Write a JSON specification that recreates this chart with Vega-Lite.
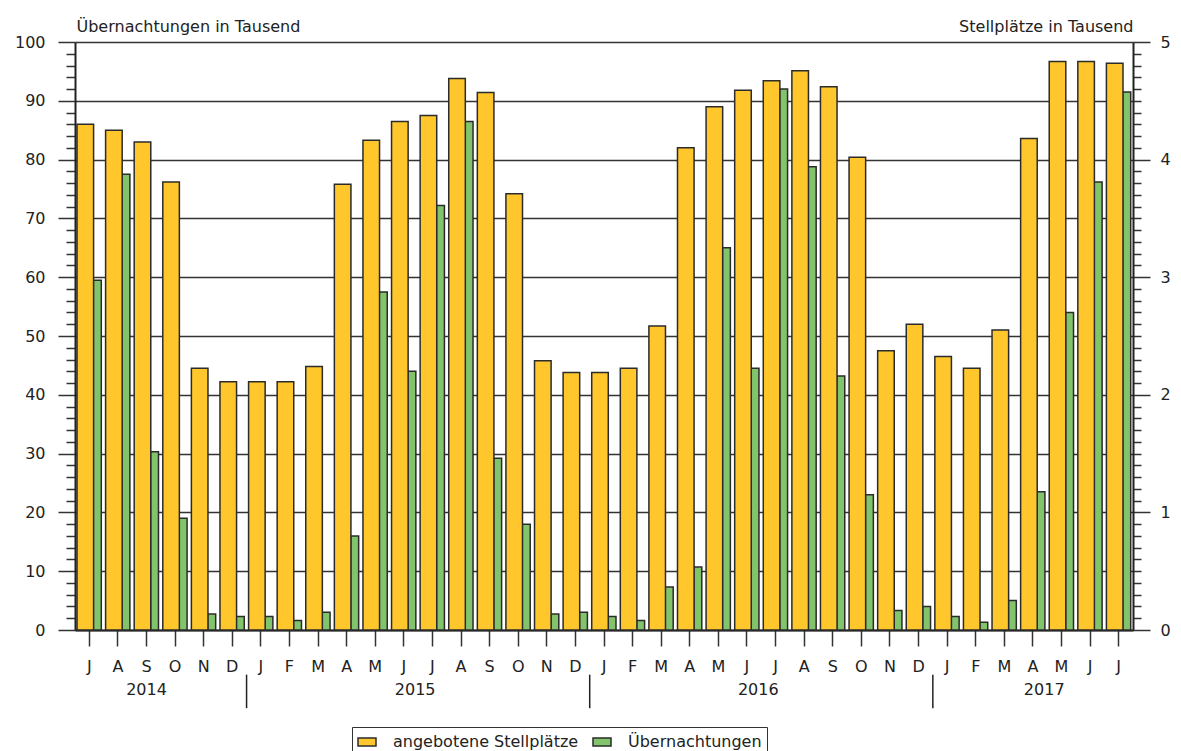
{
  "$schema": "https://vega.github.io/schema/vega-lite/v6.json",
  "width": 1058,
  "height": 588,
  "autosize": {"type": "none"},
  "padding": {"left": 75, "top": 42, "right": 48, "bottom": 121},
  "background": "white",
  "config": {
    "font": "DejaVu Sans",
    "view": {"stroke": null},
    "axisX": {
      "title": null,
      "labelAngle": 0,
      "labelFontSize": 16,
      "labelColor": "#222",
      "labelPadding": 12,
      "tickSize": 16,
      "tickColor": "#333",
      "tickWidth": 1.5,
      "domainColor": "#222",
      "domainWidth": 2,
      "grid": false
    }
  },
  "datasets": {
    "months": [
      {"m": "2014-07", "stell": 4.30, "uebern": 59.5},
      {"m": "2014-08", "stell": 4.25, "uebern": 77.5},
      {"m": "2014-09", "stell": 4.15, "uebern": 30.3},
      {"m": "2014-10", "stell": 3.81, "uebern": 19.0},
      {"m": "2014-11", "stell": 2.225, "uebern": 2.7},
      {"m": "2014-12", "stell": 2.11, "uebern": 2.3},
      {"m": "2015-01", "stell": 2.11, "uebern": 2.3},
      {"m": "2015-02", "stell": 2.11, "uebern": 1.6},
      {"m": "2015-03", "stell": 2.24, "uebern": 3.0},
      {"m": "2015-04", "stell": 3.79, "uebern": 16.0},
      {"m": "2015-05", "stell": 4.165, "uebern": 57.5},
      {"m": "2015-06", "stell": 4.325, "uebern": 44.0},
      {"m": "2015-07", "stell": 4.375, "uebern": 72.2},
      {"m": "2015-08", "stell": 4.69, "uebern": 86.5},
      {"m": "2015-09", "stell": 4.57, "uebern": 29.2},
      {"m": "2015-10", "stell": 3.71, "uebern": 18.0},
      {"m": "2015-11", "stell": 2.29, "uebern": 2.7},
      {"m": "2015-12", "stell": 2.19, "uebern": 3.0},
      {"m": "2016-01", "stell": 2.19, "uebern": 2.3},
      {"m": "2016-02", "stell": 2.225, "uebern": 1.6},
      {"m": "2016-03", "stell": 2.585, "uebern": 7.3},
      {"m": "2016-04", "stell": 4.10, "uebern": 10.7},
      {"m": "2016-05", "stell": 4.45, "uebern": 65.0},
      {"m": "2016-06", "stell": 4.59, "uebern": 44.5},
      {"m": "2016-07", "stell": 4.67, "uebern": 92.0},
      {"m": "2016-08", "stell": 4.755, "uebern": 78.8},
      {"m": "2016-09", "stell": 4.62, "uebern": 43.2},
      {"m": "2016-10", "stell": 4.02, "uebern": 23.0},
      {"m": "2016-11", "stell": 2.375, "uebern": 3.3},
      {"m": "2016-12", "stell": 2.60, "uebern": 4.0},
      {"m": "2017-01", "stell": 2.325, "uebern": 2.3},
      {"m": "2017-02", "stell": 2.225, "uebern": 1.3},
      {"m": "2017-03", "stell": 2.55, "uebern": 5.0},
      {"m": "2017-04", "stell": 4.18, "uebern": 23.5},
      {"m": "2017-05", "stell": 4.835, "uebern": 54.0},
      {"m": "2017-06", "stell": 4.835, "uebern": 76.2},
      {"m": "2017-07", "stell": 4.82, "uebern": 91.5}
    ],
    "yearsCenter": [{"year": "2014", "m": "2014-09"}],
    "yearsStart": [
      {"year": "2015", "m": "2015-07"},
      {"year": "2016", "m": "2016-07"},
      {"year": "2017", "m": "2017-05"}
    ],
    "seps": [{"m": "2015-01"}, {"m": "2016-01"}, {"m": "2017-01"}]
  },
  "layer": [
    {
      "data": {"name": "months"},
      "mark": {"type": "bar", "width": {"band": 0.28}, "xOffset": 8, "stroke": "#2b2b2b", "strokeWidth": 1.5},
      "encoding": {
        "x": {
          "field": "m", "type": "ordinal",
          "scale": {"paddingInner": 0, "paddingOuter": 0},
          "axis": {"title": null, "labelExpr": "['J','F','M','A','M','J','J','A','S','O','N','D'][toNumber(slice(datum.value,5,7))-1]"}
        },
        "y": {
          "field": "uebern", "type": "quantitative",
          "scale": {"domain": [0, 100], "nice": false, "zero": true},
          "axis": {
            "orient": "left",
            "values": [0,2,4,6,8,10,12,14,16,18,20,22,24,26,28,30,32,34,36,38,40,42,44,46,48,50,52,54,56,58,60,62,64,66,68,70,72,74,76,78,80,82,84,86,88,90,92,94,96,98,100],
            "labelExpr": "datum.value % 10 === 0 ? datum.label : ''",
            "tickSize": {"condition": {"test": "datum.value % 10 === 0", "value": 17}, "value": 9},
            "tickColor": "#333",
            "tickWidth": 1.5,
            "grid": true,
            "gridOpacity": {"condition": {"test": "datum.value % 10 === 0", "value": 1}, "value": 0},
            "gridColor": "#333",
            "gridWidth": 1.5,
            "domainColor": "#222",
            "domainWidth": 2,
            "labelFontSize": 16,
            "labelColor": "#222",
            "labelPadding": 13,
            "title": "Übernachtungen in Tausend",
            "titleAngle": 0,
            "titleAlign": "left",
            "titleBaseline": "alphabetic",
            "titleX": 1,
            "titleY": -11,
            "titleFontSize": 16,
            "titleFontWeight": "normal",
            "titleColor": "#222"
          }
        },
        "color": {
          "datum": "Übernachtungen",
          "type": "nominal",
          "scale": {"domain": ["angebotene Stellplätze", "Übernachtungen"], "range": ["#FFC72C", "#82C46C"]},
          "legend": {
            "title": null,
            "orient": "none",
            "direction": "horizontal",
            "columns": 2,
            "gridAlign": "all",
            "legendX": 277,
            "legendY": 685,
            "strokeColor": "#333",
            "padding": 5,
            "symbolType": "M-1,-0.45H1V0.45H-1Z",
            "symbolSize": 324,
            "symbolStrokeColor": "#2b2b2b",
            "symbolStrokeWidth": 1.5,
            "labelFontSize": 16,
            "labelColor": "#222",
            "labelLimit": 400,
            "labelOffset": 16,
            "columnPadding": 11
          }
        }
      }
    },
    {
      "data": {"name": "months"},
      "mark": {"type": "bar", "width": {"band": 0.58}, "xOffset": -4, "stroke": "#2b2b2b", "strokeWidth": 1.5},
      "encoding": {
        "x": {"field": "m", "type": "ordinal", "axis": {"title": null, "labelExpr": "['J','F','M','A','M','J','J','A','S','O','N','D'][toNumber(slice(datum.value,5,7))-1]"}},
        "y": {
          "field": "stell", "type": "quantitative",
          "scale": {"domain": [0, 5], "nice": false, "zero": true},
          "axis": {
            "orient": "right",
            "values": [0,0.1,0.2,0.3,0.4,0.5,0.6,0.7,0.8,0.9,1,1.1,1.2,1.3,1.4,1.5,1.6,1.7,1.8,1.9,2,2.1,2.2,2.3,2.4,2.5,2.6,2.7,2.8,2.9,3,3.1,3.2,3.3,3.4,3.5,3.6,3.7,3.8,3.9,4,4.1,4.2,4.3,4.4,4.5,4.6,4.7,4.8,4.9,5],
            "labelExpr": "abs(datum.value - round(datum.value)) < 0.001 ? format(datum.value, 'd') : ''",
            "tickSize": {"condition": {"test": "abs(datum.value - round(datum.value)) < 0.001", "value": 17}, "value": 8},
            "tickColor": "#333",
            "tickWidth": 1.5,
            "grid": false,
            "domainColor": "#222",
            "domainWidth": 2,
            "labelFontSize": 16,
            "labelColor": "#222",
            "labelPadding": 10,
            "title": "Stellplätze in Tausend",
            "titleAngle": 0,
            "titleAlign": "right",
            "titleBaseline": "alphabetic",
            "titleX": 0,
            "titleY": -11,
            "titleFontSize": 16,
            "titleFontWeight": "normal",
            "titleColor": "#222"
          }
        },
        "color": {
          "datum": "angebotene Stellplätze",
          "type": "nominal",
          "scale": {"domain": ["angebotene Stellplätze", "Übernachtungen"], "range": ["#FFC72C", "#82C46C"]}
        }
      }
    },
    {
      "data": {"name": "seps"},
      "mark": {"type": "rule", "stroke": "#222", "strokeWidth": 1.5},
      "encoding": {
        "x": {"field": "m", "type": "ordinal", "bandPosition": 0, "axis": {"title": null, "labelExpr": "['J','F','M','A','M','J','J','A','S','O','N','D'][toNumber(slice(datum.value,5,7))-1]"}},
        "y": {"datum": -7.6, "type": "quantitative", "scale": {"domain": [0, 100], "nice": false}, "axis": null},
        "y2": {"datum": -13.3}
      }
    },
    {
      "data": {"name": "yearsCenter"},
      "mark": {"type": "text", "fontSize": 16, "color": "#222", "baseline": "middle", "align": "center"},
      "encoding": {
        "x": {"field": "m", "type": "ordinal", "bandPosition": 0.5, "axis": {"title": null, "labelExpr": "['J','F','M','A','M','J','J','A','S','O','N','D'][toNumber(slice(datum.value,5,7))-1]"}},
        "y": {"datum": -10.2, "type": "quantitative", "scale": {"domain": [0, 100], "nice": false}, "axis": null},
        "text": {"field": "year"}
      }
    },
    {
      "data": {"name": "yearsStart"},
      "mark": {"type": "text", "fontSize": 16, "color": "#222", "baseline": "middle", "align": "center", "dx": -3},
      "encoding": {
        "x": {"field": "m", "type": "ordinal", "bandPosition": 0, "axis": {"title": null, "labelExpr": "['J','F','M','A','M','J','J','A','S','O','N','D'][toNumber(slice(datum.value,5,7))-1]"}},
        "y": {"datum": -10.2, "type": "quantitative", "scale": {"domain": [0, 100], "nice": false}, "axis": null},
        "text": {"field": "year"}
      }
    }
  ],
  "resolve": {"scale": {"y": "independent"}}
}
